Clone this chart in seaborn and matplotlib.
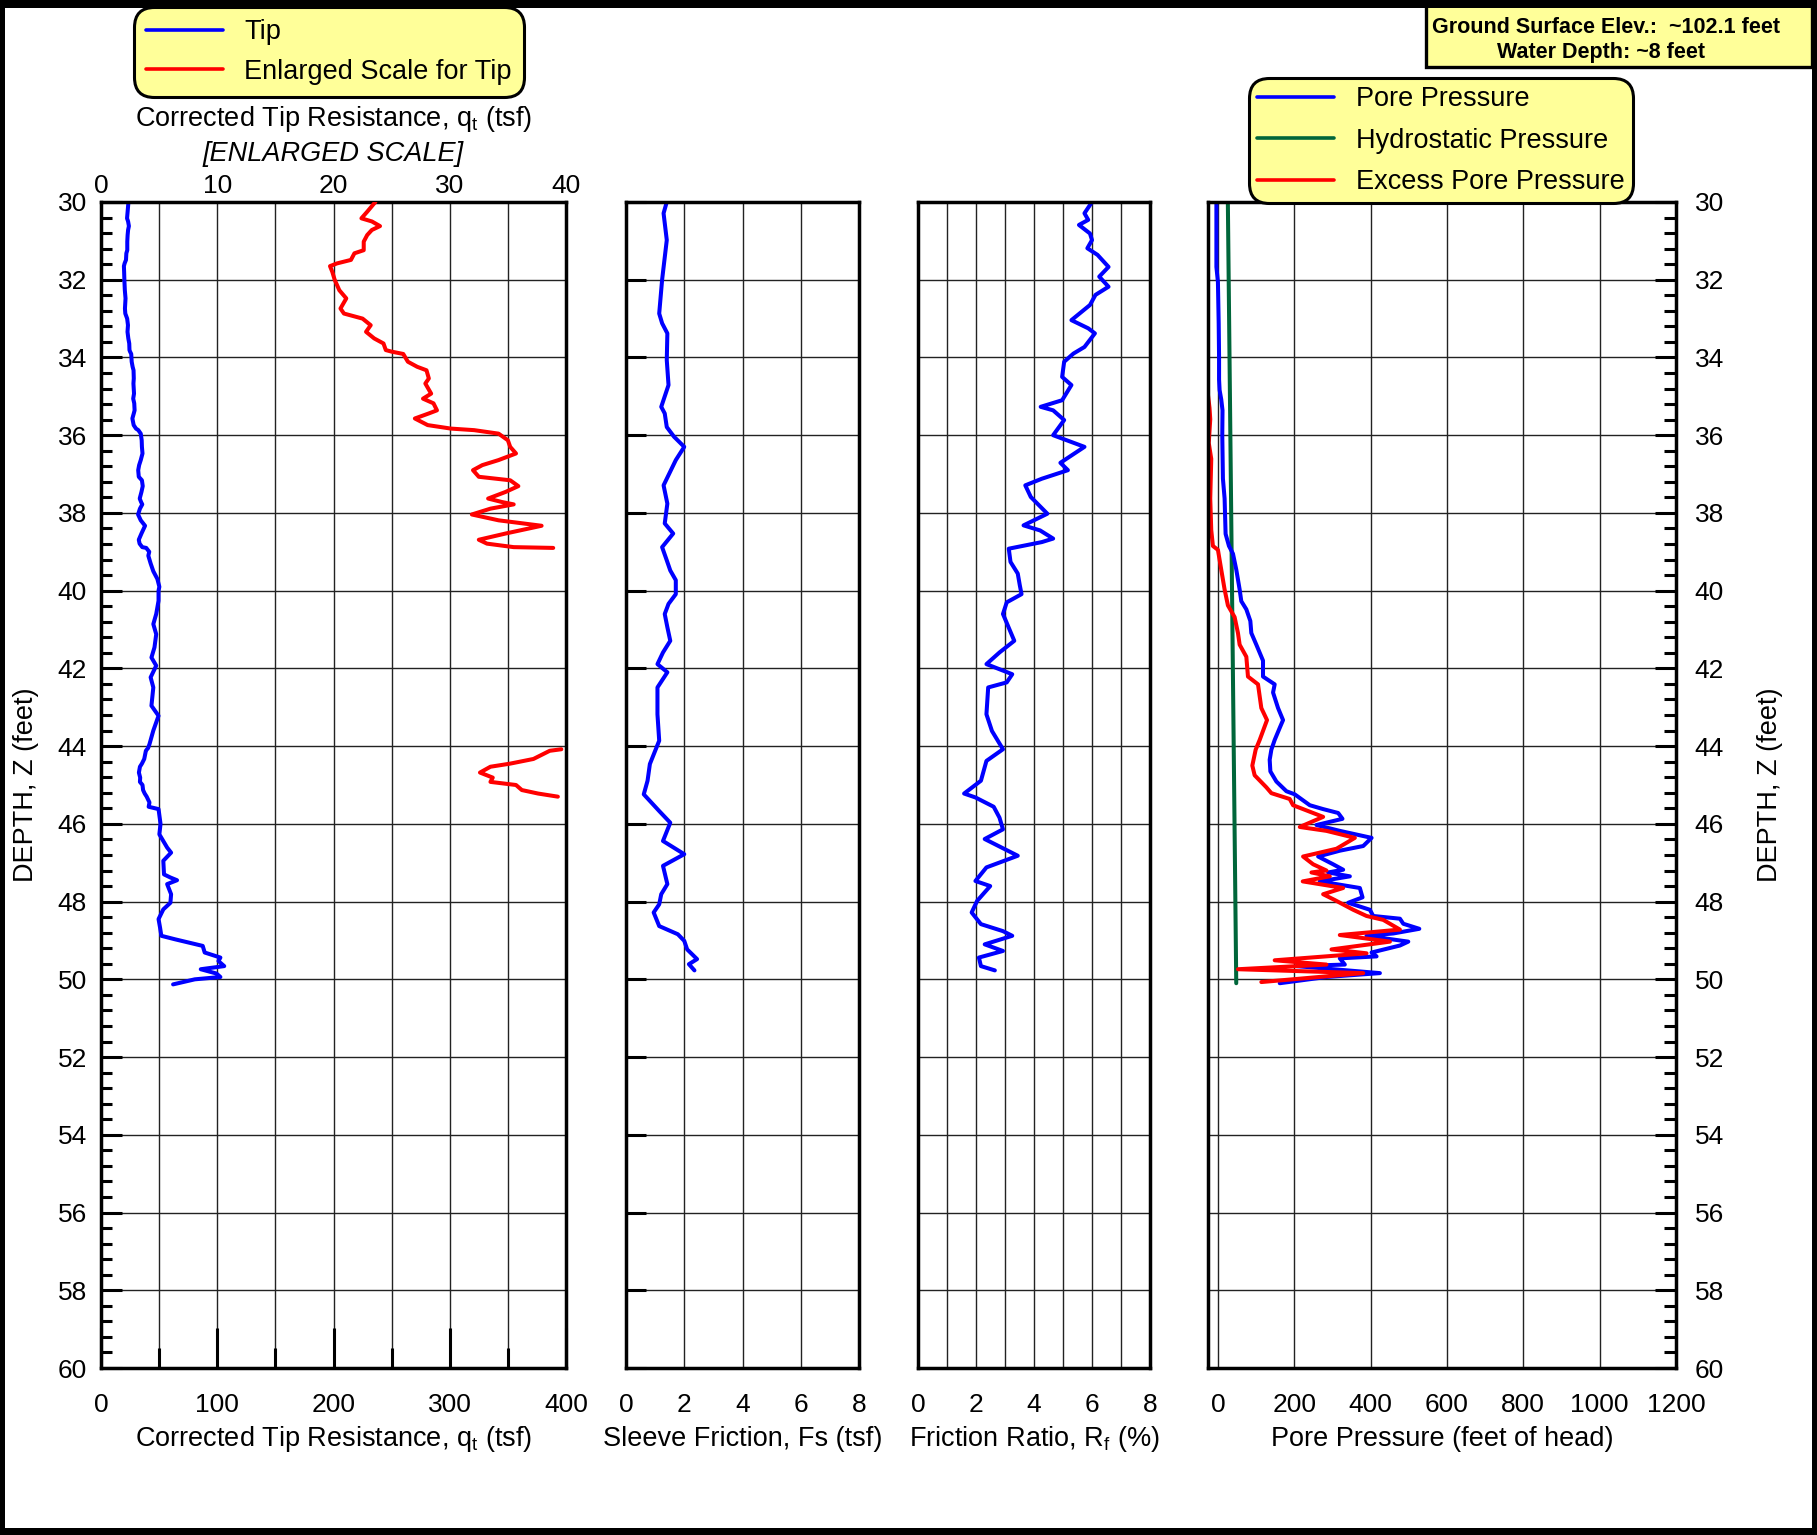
import numpy as np
import pandas as pd
import matplotlib
matplotlib.use("Agg")
import matplotlib.pyplot as plt
import seaborn as sns
from matplotlib.patches import Rectangle
from matplotlib.ticker import MultipleLocator

# ---------------- data ----------------
qt_depth = [30.0, 30.25, 30.42, 30.5, 30.62, 30.72, 30.85, 31.02, 31.24, 31.32, 31.49, 31.58, 31.65,
            31.8, 32.0, 32.27, 32.48, 32.74, 32.87, 33.0, 33.17, 33.34, 33.51, 33.64, 33.81, 33.85,
            33.91, 34.11, 34.24, 34.33, 34.54, 34.67, 34.93, 35.06, 35.18, 35.36, 35.44, 35.57, 35.74,
            35.83, 35.87, 35.96, 36.13, 36.3, 36.47, 36.64, 36.77, 36.9, 37.07, 37.16, 37.31, 37.46,
            37.63, 37.72, 37.78, 37.89, 38.04, 38.19, 38.33, 38.53, 38.69, 38.79, 38.88, 38.9, 39.0,
            39.1, 39.3, 39.5, 39.7, 39.9, 40.0, 40.26, 40.6, 40.86, 41.12, 41.46, 41.72, 41.93, 42.23,
            42.49, 42.96, 43.22, 43.6, 43.95, 44.05, 44.08, 44.12, 44.33, 44.45, 44.53, 44.68, 44.81,
            44.92, 45.0, 45.13, 45.22, 45.3, 45.45, 45.56, 45.62, 46.0, 46.27, 46.61, 46.74, 46.95,
            47.3, 47.38, 47.45, 47.55, 47.81, 48.03, 48.2, 48.45, 48.67, 48.88, 48.97, 49.14, 49.31,
            49.44, 49.53, 49.66, 49.74, 49.85, 49.94, 50.0, 50.13]
qt_tsf = [23.6, 22.9, 22.4, 23.3, 24.0, 23.3, 22.9, 22.6, 22.6, 21.8, 21.5, 20.3, 19.7,
          19.9, 20.1, 20.5, 21.1, 20.6, 20.9, 22.5, 23.2, 22.8, 23.5, 24.3, 24.5, 25.0,
          26.0, 26.4, 27.2, 28.0, 28.2, 27.9, 28.4, 27.7, 28.6, 28.9, 28.2, 27.0, 28.1,
          30.1, 32.1, 34.2, 35.0, 35.2, 35.7, 34.2, 32.8, 32.0, 32.5, 35.2, 35.9, 34.8,
          33.3, 34.5, 35.5, 33.5, 31.9, 34.2, 37.9, 34.8, 32.5, 33.2, 35.5, 38.9, 41.5,
          40.7, 42.7, 45.0, 48.5, 50.2, 49.5, 49.5, 47.5, 45.0, 47.5, 46.0, 43.4, 47.5, 42.7,
          45.0, 43.4, 49.5, 45.0, 41.7, 40.5, 39.6, 38.6, 37.2, 35.2, 33.5, 32.6, 33.7,
          33.5, 35.7, 36.2, 37.6, 39.3, 41.7, 41.0, 49.5, 51.2, 50.2, 56.9, 60.3, 53.6,
          54.2, 59.7, 65.4, 56.9, 60.3, 59.7, 53.6, 49.5, 50.8, 51.9, 63.7, 87.5, 89.2,
          102.7, 101.0, 106.0, 85.8, 99.3, 102.7, 80.7, 62.0]

fs_depth = [30.0, 30.29, 30.98, 32.0, 32.87, 33.12, 33.38, 34.07, 34.71, 35.27, 35.44, 35.79, 36.04,
            36.3, 36.64, 37.29, 37.76, 38.27, 38.53, 38.88, 39.22, 39.48, 39.73, 40.09, 40.34, 40.6,
            40.94, 41.29, 41.59, 41.89, 42.1, 42.49, 43.18, 43.86, 44.46, 44.89, 45.24, 45.67, 45.97,
            46.44, 46.78, 47.08, 47.55, 47.81, 48.07, 48.28, 48.63, 48.84, 49.01, 49.23, 49.48,
            49.61, 49.77]
fs_tsf = [1.40, 1.29, 1.40, 1.24, 1.14, 1.24, 1.42, 1.40, 1.46, 1.21, 1.33, 1.40, 1.65,
          2.0, 1.71, 1.29, 1.42, 1.33, 1.62, 1.24, 1.40, 1.52, 1.71, 1.71, 1.46, 1.33,
          1.42, 1.52, 1.27, 1.08, 1.42, 1.08, 1.08, 1.14, 0.82, 0.74, 0.61, 1.14, 1.52,
          1.27, 2.0, 1.27, 1.42, 1.21, 1.14, 0.95, 1.14, 1.78, 2.0, 2.1, 2.44,
          2.16, 2.35]

rf_depth = [30.0, 30.29, 30.46, 30.59, 30.81, 30.98, 31.19, 31.36, 31.67, 31.92, 32.18, 32.39, 32.65,
            33.04, 33.25, 33.38, 33.73, 33.9, 34.11, 34.5, 34.71, 35.1, 35.27, 35.36, 35.61, 36.0,
            36.3, 36.71, 36.9, 37.12, 37.29, 37.59, 38.02, 38.32, 38.45, 38.66, 38.75, 38.92, 39.26,
            39.56, 39.86, 40.09, 40.3, 40.6, 41.29, 41.59, 41.89, 42.15, 42.36, 42.49, 43.18, 43.61,
            44.08, 44.38, 44.89, 45.22, 45.32, 45.56, 45.84, 46.14, 46.39, 46.82, 47.12, 47.47, 47.6,
            47.98, 48.28, 48.58, 48.76, 48.88, 49.1, 49.27, 49.44, 49.66, 49.77]
rf_pct = [6.0, 5.74, 5.87, 5.55, 5.93, 6.0, 5.84, 6.19, 6.57, 6.25, 6.57, 6.12, 5.93,
          5.29, 5.87, 6.10, 5.74, 5.36, 5.04, 4.97, 5.29, 4.97, 4.23, 4.66, 5.04, 4.66,
          5.74, 4.91, 5.17, 4.27, 3.70, 3.89, 4.46, 3.64, 4.21, 4.66, 4.27, 3.13, 3.19,
          3.44, 3.51, 3.57, 3.06, 2.93, 3.32, 2.81, 2.36, 3.25, 3.06, 2.42, 2.36, 2.55,
          2.93, 2.36, 2.17, 1.59, 1.98, 2.61, 2.81, 2.93, 2.30, 3.44, 2.36, 1.98, 2.49,
          2.04, 1.85, 2.17, 2.93, 3.25, 2.30, 2.93, 2.10, 2.17, 2.65]

u_depth = [30.0, 31.0, 31.67, 32.06, 33.12, 34.0, 34.57, 34.84, 35.08, 35.36, 36.0, 37.12, 37.63,
           38.54, 38.85, 39.05, 39.46, 39.97, 40.27, 40.48, 40.78, 41.09, 41.39, 41.8, 42.21, 42.41,
           42.62, 43.02, 43.33, 43.53, 43.84, 44.09, 44.35, 44.65, 44.91, 45.16, 45.24, 45.52,
           45.62, 45.72, 45.87, 46.03, 46.18, 46.36, 46.57, 46.69, 46.84, 47.04, 47.18, 47.25,
           47.35, 47.48, 47.65, 47.89, 48.03, 48.21, 48.37, 48.44, 48.57, 48.70, 48.82, 48.88,
           49.03, 49.13, 49.31, 49.41, 49.46, 49.62, 49.66, 49.84, 49.94, 50.1]
u_ft = [-4, -4, -4, 0, 2, 3, 3, 4.4, 8.7, 12.0, 11.4, 13.1, 17.5,
        20.1, 28.9, 39.4, 48.1, 56.9, 61.2, 74.4, 84.9, 87.5, 100.6, 118.1, 118.1, 148.7,
        144.4, 157.5, 170.6, 161.9, 148.7, 140.0, 135.6, 137.4, 153.1, 179.4, 201.2, 240.6,
        275.6, 315.0, 326.3, 258.1, 319.3, 402.5, 380.6, 319.3, 262.5, 301.8, 328.1, 288.7,
        345.6, 266.8, 371.8, 378.8, 341.2, 398.1, 406.8, 476.8, 485.6, 527.6, 459.3, 389.3,
        498.7, 476.8, 402.5, 415.6, 319.3, 332.4, 205.6, 424.3, 284.3, 161.9]

ue_depth = [34.97, 35.3, 35.59, 36.2, 36.61, 37.63, 38.44, 38.85, 38.95, 39.46, 39.97, 40.38, 40.68,
            41.09, 41.39, 41.70, 42.21, 42.41, 43.02, 43.33, 43.84, 44.09, 44.50, 44.75, 45.06,
            45.21, 45.36, 45.52, 45.67, 45.82, 46.08, 46.18, 46.36, 46.64, 46.84, 47.04, 47.20,
            47.25, 47.35, 47.48, 47.65, 47.81, 47.96, 48.21, 48.37, 48.47, 48.72, 48.86, 49.03,
            49.23, 49.33, 49.51, 49.62, 49.74, 49.84, 50.07]
ue_ft = [-26, -22, -20.1, -24, -17.5, -20.1, -17.5, -13.1, 0, 8.7, 17.5, 26.2, 43.7,
         52.5, 56.9, 74.4, 78.7, 105.0, 113.7, 128.6, 109.4, 98.9, 90.1, 96.2, 126.9,
         140.0, 188.1, 196.8, 236.2, 275.6, 214.4, 284.3, 358.7, 310.6, 223.1, 249.4, 284.3,
         245.0, 293.1, 222.2, 328.1, 275.6, 306.2, 354.3, 389.3, 433.1, 476.8, 319.3, 450.6,
         297.5, 389.3, 148.7, 284.3, 52.5, 380.6, 113.7]

hydro_depth = [30.0, 50.1]
hydro_ft = [26, 48]

# ---------------- style ----------------
sns.set_style("white")
plt.rcParams.update({
    'font.family': ['Liberation Sans', 'DejaVu Sans'],
    'text.color': 'black', 'axes.labelcolor': 'black',
    'xtick.color': 'black', 'ytick.color': 'black', 'axes.edgecolor': 'black',
    'xtick.direction': 'in', 'ytick.direction': 'in',
})

BLUE, RED, GREEN = '#0000FF', '#FF0000', '#00663A'
YELLOW = '#FFFF99'
LW = 2.9
TICK_FS = 19
LAB_FS = 19.5
W, H = 1817, 1535
TOP, BOT = 202, 1368

fig = plt.figure(figsize=(W / 100, H / 100), dpi=100)


def fx(px):
    return px / W


def fy(py):
    return 1 - py / H


def add_ax(x0, x1):
    return fig.add_axes([fx(x0), fy(BOT), (x1 - x0) / W, (BOT - TOP) / H])


ax1 = add_ax(101, 566)
ax2 = add_ax(626, 859)
ax3 = add_ax(918, 1150)
ax4 = add_ax(1208, 1676)

for ax in (ax1, ax2, ax3, ax4):
    ax.set_ylim(60, 30)
    ax.set_facecolor('white')
    for sp in ax.spines.values():
        sp.set_visible(True)
        sp.set_linewidth(2.5)
        sp.set_color('black')
        sp.set_zorder(5)
    ax.yaxis.set_major_locator(MultipleLocator(2))
    ax.set_axisbelow(True)
    ax.grid(True, which='major', axis='y', color='#222222', lw=1.0)
    ax.tick_params(axis='x', which='major', labelsize=TICK_FS, pad=18, width=2.2, top=False)
    ax.tick_params(axis='x', which='minor', width=2.2, top=False)
    ax.tick_params(axis='y', labelsize=TICK_FS, width=2.2)

xlab_y = -(1439 - BOT) / (BOT - TOP)

# ---- panel 1: tip resistance ----
ax1.set_xlim(0, 400)
ax1.xaxis.set_major_locator(MultipleLocator(100))
ax1.xaxis.set_minor_locator(MultipleLocator(50))
ax1.yaxis.set_minor_locator(MultipleLocator(0.4))
ax1.grid(True, which='both', axis='x', color='#222222', lw=1.0)
ax1.tick_params(axis='x', which='major', length=29)
ax1.tick_params(axis='x', which='minor', length=14.4)
ax1.tick_params(axis='y', which='major', length=15, left=True, right=False, pad=10)
ax1.tick_params(axis='y', which='minor', length=8, width=2.2, left=True, right=False)
sns.lineplot(x=qt_tsf, y=qt_depth, sort=False, estimator=None, orient='y',
             color=BLUE, lw=LW, ax=ax1, legend=False)

ax1t = ax1.twiny()
ax1t.set_xlim(0, 40)
ax1t.xaxis.set_major_locator(MultipleLocator(10))
ax1t.tick_params(axis='x', top=True, bottom=False, labeltop=True, labelbottom=False,
                 length=0, labelsize=TICK_FS, pad=2.6)
ax1t.tick_params(axis='y', which='both', left=False, right=False, labelleft=False, labelright=False)
for sp in ax1t.spines.values():
    sp.set_visible(False)
qt_df = pd.DataFrame({'depth': qt_depth, 'qt': qt_tsf})
qt_df['inrange'] = qt_df['qt'] <= 40
qt_df['seg'] = (qt_df['inrange'] != qt_df['inrange'].shift()).cumsum()
enl = qt_df[qt_df['inrange']]
sns.lineplot(data=enl, x='qt', y='depth', units='seg', estimator=None, sort=False,
             color=RED, lw=LW, ax=ax1t, legend=False)
ax1t.set_ylim(60, 30)
ax1t.set_xlabel('Corrected Tip Resistance, q$_\\mathregular{t}$ (tsf)', fontsize=LAB_FS)
ax1t.xaxis.set_label_coords(0.5, 1 + (TOP - 119) / (BOT - TOP))
ax1t.xaxis.label.set_va('center')
ax1t.set_ylabel('')
ax1.text(0.5, 1 + (TOP - 154) / (BOT - TOP), '[ENLARGED SCALE]', transform=ax1.transAxes,
         ha='center', va='center', fontsize=LAB_FS, style='italic')

ax1.set_xlabel('Corrected Tip Resistance, q$_\\mathregular{t}$ (tsf)', fontsize=LAB_FS)
ax1.set_ylabel('DEPTH, Z (feet)', fontsize=LAB_FS)
ax1.yaxis.set_label_coords((26 - 101) / 465, 0.5)
ax1.yaxis.label.set_va('center')

# ---- panel 2: sleeve friction ----
ax2.set_xlim(0, 8)
ax2.xaxis.set_major_locator(MultipleLocator(2))
ax2.xaxis.set_minor_locator(MultipleLocator(1))
ax2.grid(True, which='major', axis='x', color='#222222', lw=1.0)
ax2.tick_params(axis='x', which='major', length=14.4)
ax2.tick_params(axis='x', which='minor', length=8)
ax2.tick_params(axis='y', which='major', length=14.4, left=True, right=False, labelleft=False)
sns.lineplot(x=fs_tsf, y=fs_depth, sort=False, estimator=None, orient='y',
             color=BLUE, lw=LW, ax=ax2, legend=False)
ax2.set_xlabel('Sleeve Friction, Fs (tsf)', fontsize=LAB_FS)
ax2.set_ylabel('')

# ---- panel 3: friction ratio ----
ax3.set_xlim(0, 8)
ax3.xaxis.set_major_locator(MultipleLocator(2))
ax3.xaxis.set_minor_locator(MultipleLocator(1))
ax3.grid(True, which='both', axis='x', color='#222222', lw=1.0)
ax3.tick_params(axis='x', which='major', length=14.4)
ax3.tick_params(axis='x', which='minor', length=8)
ax3.tick_params(axis='y', which='both', left=False, right=False, labelleft=False)
sns.lineplot(x=rf_pct, y=rf_depth, sort=False, estimator=None, orient='y',
             color=BLUE, lw=LW, ax=ax3, legend=False)
ax3.set_xlabel('Friction Ratio, R$_\\mathregular{f}$ (%)', fontsize=LAB_FS)
ax3.set_ylabel('')

# ---- panel 4: pore pressure ----
ax4.set_xlim(-26, 1200)
ax4.xaxis.set_major_locator(MultipleLocator(200))
ax4.yaxis.set_minor_locator(MultipleLocator(0.4))
ax4.grid(True, which='major', axis='x', color='#222222', lw=1.0)
ax4.tick_params(axis='x', which='major', length=14)
ax4.yaxis.tick_right()
ax4.tick_params(axis='y', which='major', length=15, left=False, right=True,
                labelleft=False, labelright=True, pad=13.5)
ax4.tick_params(axis='y', which='minor', length=9, width=2.2, left=False, right=True)
sns.lineplot(x=hydro_ft, y=hydro_depth, sort=False, estimator=None, orient='y',
             color=GREEN, lw=LW, ax=ax4, legend=False)
sns.lineplot(x=u_ft, y=u_depth, sort=False, estimator=None, orient='y',
             color=BLUE, lw=LW, ax=ax4, legend=False)
sns.lineplot(x=ue_ft, y=ue_depth, sort=False, estimator=None, orient='y',
             color=RED, lw=LW, ax=ax4, legend=False)
ax4.set_xlabel('Pore Pressure (feet of head)', fontsize=LAB_FS)
ax4.set_ylabel('DEPTH, Z (feet)', fontsize=LAB_FS)
ax4.yaxis.set_label_position('right')
ax4.yaxis.set_label_coords((1770 - 1208) / 468, 0.5)
ax4.yaxis.label.set_rotation(90)
ax4.yaxis.label.set_va('center')

for ax in (ax1, ax2, ax3, ax4):
    ax.xaxis.set_label_coords(0.5, xlab_y)
    ax.xaxis.label.set_va('center')

# ---------------- legends ----------------
hyd_line, u_line, ue_line = ax4.lines[0], ax4.lines[1], ax4.lines[2]
tip_line = ax1.lines[0]
enl_line = ax1t.lines[0]

leg_kw = dict(loc='upper left', borderaxespad=0, fontsize=LAB_FS, handlelength=2.84,
              frameon=True, fancybox=True, facecolor=YELLOW, edgecolor='black', framealpha=1)
leg1 = fig.legend(handles=[tip_line, enl_line], labels=['Tip', 'Enlarged Scale for Tip'],
                  bbox_to_anchor=(fx(134), fy(7)), handletextpad=0.78, labelspacing=0.5,
                  borderpad=0.45, **leg_kw)
leg2 = fig.legend(handles=[u_line, hyd_line, ue_line],
                  labels=['Pore Pressure', 'Hydrostatic Pressure', 'Excess Pore Pressure'],
                  bbox_to_anchor=(fx(1249), fy(78)), handletextpad=0.81, labelspacing=0.57,
                  borderpad=0.3, **leg_kw)
for lg in (leg1, leg2):
    fr = lg.get_frame()
    fr.set_linewidth(2.2)
    fr.set_boxstyle('round,pad=0,rounding_size=0.75')
    for ln in lg.get_lines():
        ln.set_linewidth(2.6)

# ---------------- info box ----------------
fig.add_artist(Rectangle((fx(1426), fy(67)), (1812 - 1426) / W, 67 / H, transform=fig.transFigure,
                         facecolor=YELLOW, edgecolor='black', lw=2.4, zorder=6))
fig.text(fx(1606), fy(33), 'Ground Surface Elev.:  ~102.1 feet', ha='center', va='baseline',
         fontsize=15.5, fontweight='bold', zorder=7)
fig.text(fx(1601), fy(58), 'Water Depth: ~8 feet', ha='center', va='baseline',
         fontsize=15.5, fontweight='bold', zorder=7)

# ---------------- black frame ----------------
for (x0, y0, w, h) in [(0, 0, W, 8), (0, 0, 5, H), (W - 5, 0, 5, H), (0, H - 7, W, 7)]:
    fig.add_artist(Rectangle((x0 / W, 1 - (y0 + h) / H), w / W, h / H, transform=fig.transFigure,
                             facecolor='black', edgecolor='none', zorder=10))

fig.savefig('out.png', dpi=100, facecolor='white')
